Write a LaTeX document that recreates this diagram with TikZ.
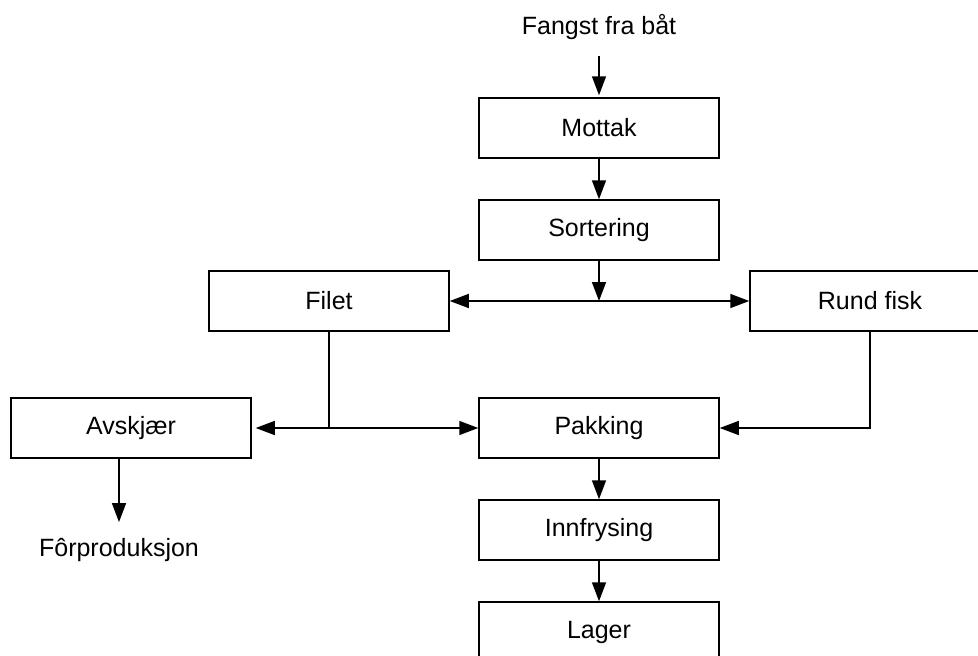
\documentclass[tikz,border=0pt]{standalone}
\usepackage{fontspec}
\setmainfont{Liberation Sans}
\usetikzlibrary{arrows.meta}
\begin{document}
\begin{tikzpicture}[x=1pt,y=-1pt,
  font=\fontsize{25}{30}\selectfont,
  box/.style={draw, line width=1.5pt, minimum width=240pt, minimum height=60pt, inner sep=0pt},
  label/.style={inner sep=0pt},
  arr/.style={line width=1.5pt, -{Triangle[length=19pt,width=14pt]}},
  ln/.style={line width=1.5pt}]
\useasboundingbox (0,0) rectangle (978,656);
\clip (0,0) rectangle (978,656);

% process steps
\node[label] (fangst) at (599,27) {Fangst fra båt};
\node[box] (mottak) at (599,128) {Mottak};
\node[box] (sortering) at (599,230) {Sortering};
\node[box] (filet) at (329,301) {Filet};
\node[box] (rund) at (870,301) {Rund fisk};
\node[box] (avskjaer) at (131,428) {Avskjær};
\node[box] (pakking) at (599,428) {Pakking};
\node[box] (innfrysing) at (599,530) {Innfrysing};
\node[box] (lager) at (599,632) {Lager};
\node[label] (forprod) at (119,550) {Fôrproduksjon};

% junction points
\coordinate (split) at (599,301);
\coordinate (filetsplit) at (329,428);

% flow
\draw[arr, shorten <=16pt, shorten >=2pt] (fangst) -- (mottak);
\draw[arr] (mottak) -- (sortering);
\draw[arr] (sortering) -- (split);
\draw[arr] (split) -- (filet);
\draw[arr] (split) -- (rund);
\draw[ln] (filet.south) -- (filetsplit);
\draw[arr, shorten >=4pt] (filetsplit) -- (avskjaer.east);
\draw[arr] (filetsplit) -- (pakking.west);
\draw[arr] (rund.south) |- (pakking.east);
\draw[arr] (pakking) -- (innfrysing);
\draw[arr] (innfrysing) -- (lager);
\draw[arr, shorten >=16pt] (avskjaer.south -| forprod.north) -- (forprod.north);
\end{tikzpicture}
\end{document}
